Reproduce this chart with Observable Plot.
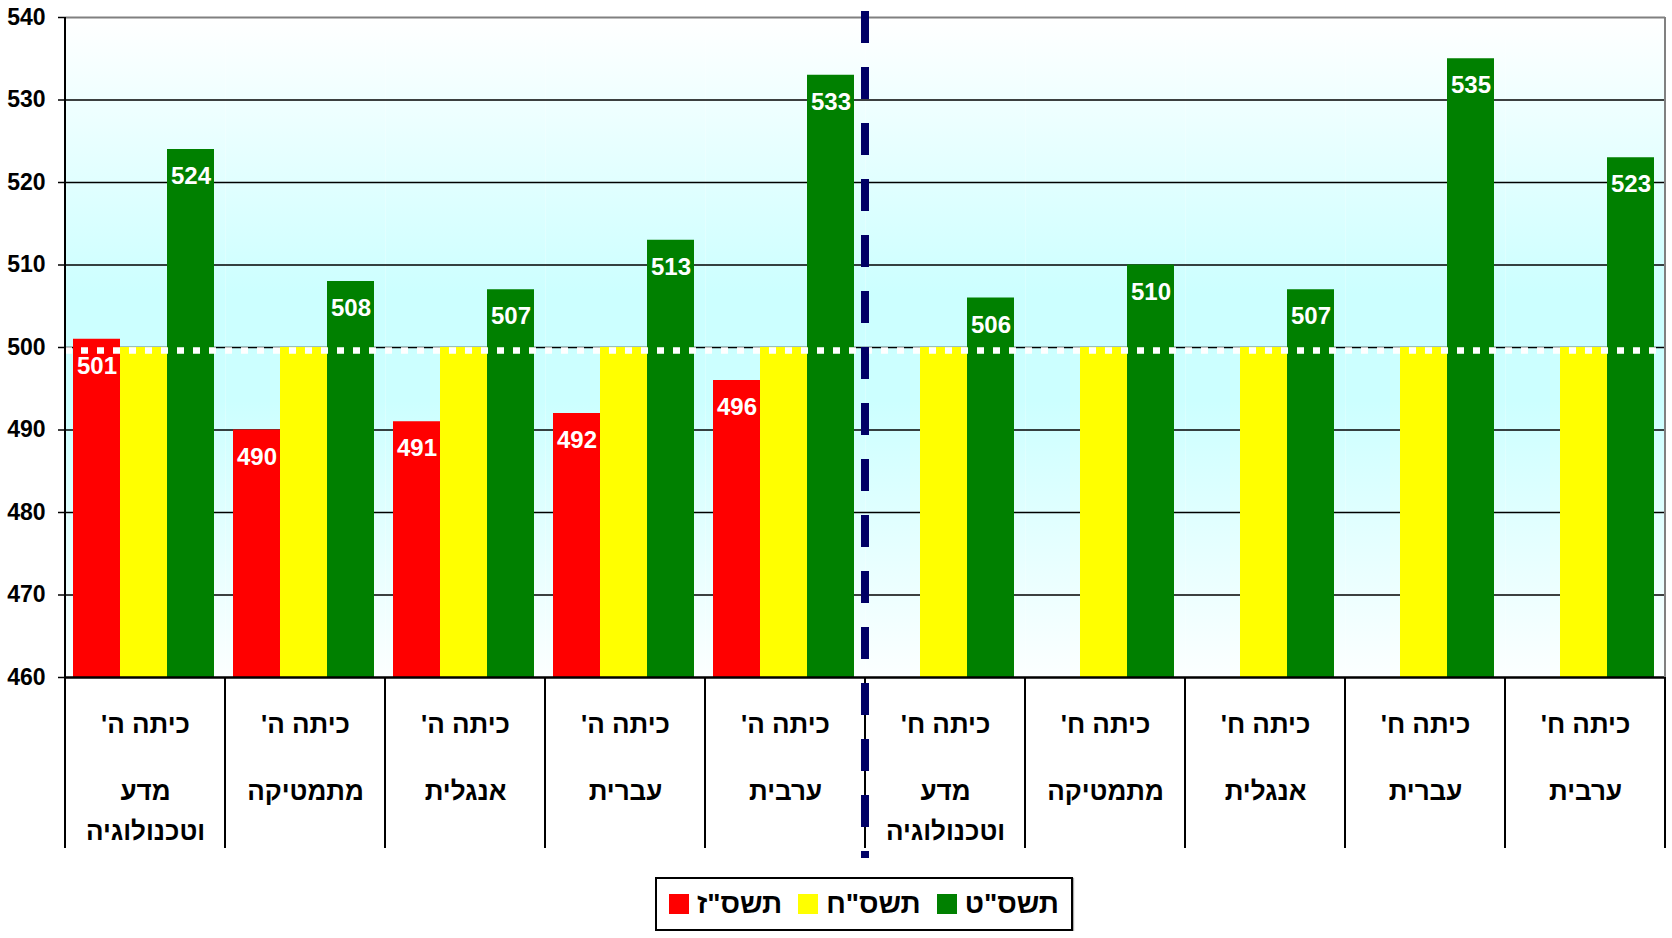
<!DOCTYPE html>
<html>
<head>
<meta charset="utf-8">
<script src="https://cdn.jsdelivr.net/npm/d3@7"></script>
<script src="https://cdn.jsdelivr.net/npm/@observablehq/plot@0.6"></script>
<style>
  body { margin: 0; background: #fff; font-family: "Liberation Sans", Arial, sans-serif; }
  #chart svg { display: block; }
  #legend {
    display: inline-flex; align-items: center; box-sizing: border-box;
    margin: 12px 0 0 655px; height: 54px; padding: 0 12px;
    border: 2px solid #000; font-weight: bold; font-size: 28px; color: #000;
    box-shadow: 1px 1px 1px #aaa;
  }
  #legend .sw { display: inline-block; width: 20px; height: 20px; margin-right: 8px; }
  #legend .lab { margin-right: 16px; }
  #legend .lab:last-child { margin-right: 0; }
</style>
</head>
<body>
<div id="chart"></div>
<div id="legend"></div>
<script>
// ---- data ----
const grades = ["כיתה ה'", "כיתה ה'", "כיתה ה'", "כיתה ה'", "כיתה ה'",
                "כיתה ח'", "כיתה ח'", "כיתה ח'", "כיתה ח'", "כיתה ח'"];
const subjects = ["מדע\nוטכנולוגיה", "מתמטיקה", "אנגלית", "עברית", "ערבית",
                  "מדע\nוטכנולוגיה", "מתמטיקה", "אנגלית", "עברית", "ערבית"];
const seriesNames = ['תשס"ז', 'תשס"ח', 'תשס"ט'];
const seriesColors = ["#ff0000", "#ffff00", "#008000"];
const values2007 = [501, 490, 491, 492, 496, null, null, null, null, null];
const values2008 = [500, 500, 500, 500, 500, 500, 500, 500, 500, 500];
const values2009 = [524, 508, 507, 513, 533, 506, 510, 507, 535, 523];
const yTicks = [460, 470, 480, 490, 500, 510, 520, 530, 540];
const yGrid = [470, 480, 490, 500, 510, 520, 530];
const yMin = 460, yMax = 540, reference = 500;

// ---- tables ----
const seriesValues = [values2007, values2008, values2009];
const cats = grades.map((g, i) => ({i, grade: g, subject: subjects[i]}));
const rows = [];
seriesValues.forEach((vals, s) => vals.forEach((v, i) => {
  if (v != null) rows.push({i, s: seriesNames[s], v, labeled: s !== 1});
}));
const labelRows = rows.filter(d => d.labeled);

const plot = Plot.plot({
  width: 1672, height: 865,
  marginTop: 17, marginLeft: 65, marginRight: 7, marginBottom: 188,
  style: {fontFamily: '"Liberation Sans", Arial, sans-serif', fontWeight: "bold", color: "#000", background: "transparent"},
  fx: {domain: d3.range(grades.length), padding: 0, axis: null},
  x: {domain: seriesNames, paddingInner: 0, paddingOuter: 0.17, align: 0.44, axis: null},
  y: {domain: [yMin, yMax], axis: null},
  color: {domain: seriesNames, range: seriesColors},
  marks: [
    Plot.frame({fill: "url(#bgGrad)", stroke: "none"}),
    Plot.gridY(yGrid, {stroke: "#000", strokeOpacity: 1, strokeWidth: 1.5}),
    Plot.ruleY([yMax], {stroke: "#808080", strokeWidth: 2}),
    Plot.barY(rows, {fx: "i", x: "s", y1: () => yMin, y2: "v", fill: "s"}),
    Plot.ruleY([reference], {stroke: "#fff", strokeWidth: 6.5, strokeDasharray: "7,9", dy: 3}),
    Plot.ruleY([yMin], {stroke: "#000", strokeWidth: 2.5}),
    Plot.text(labelRows, {fx: "i", x: "s", y: "v", text: d => String(d.v), fill: "#fff", fontSize: 24, dy: 27}),
    Plot.axisY({ticks: yTicks, tickSize: 7, tickPadding: 13, fontSize: 23, label: null, strokeWidth: 1.5}),
    Plot.text(cats, {fx: "i", text: d => d.grade + "\u200F", frameAnchor: "bottom", lineAnchor: "middle", dy: 47, fontSize: 26}),
    Plot.text(cats, {fx: "i", text: d => d.subject.split("\n").map(t => t + "\u200F").join("\n"), frameAnchor: "bottom", lineAnchor: "top", lineHeight: 1.55, dy: 94, fontSize: 26})
  ]
});

const svg = d3.select(plot);
svg.insert("defs", ":first-child").html(
  '<linearGradient id="bgGrad" x1="0" y1="0" x2="0" y2="1">' +
  '<stop offset="0" stop-color="#ffffff"/>' +
  '<stop offset="0.42" stop-color="#ccffff"/>' +
  '<stop offset="0.58" stop-color="#ccffff"/>' +
  '<stop offset="1" stop-color="#fcffff"/>' +
  '</linearGradient>');

const fx = plot.scale("fx"), ys = plot.scale("y");
const [r0, r1] = fx.range;
const step = (r1 - r0) / fx.domain.length;
const yTop = ys.apply(yMax), yBase = ys.apply(yMin);
const yLow = yBase + 171;
const deco = svg.append("g");
for (let k = 0; k <= fx.domain.length; k++) {
  const x = r0 + k * step;
  deco.append("line").attr("x1", x).attr("x2", x).attr("y1", yBase).attr("y2", yLow)
    .attr("stroke", "#000").attr("stroke-width", 2);
}
deco.append("line").attr("x1", r0).attr("x2", r0).attr("y1", yTop).attr("y2", yBase)
  .attr("stroke", "#000").attr("stroke-width", 2);
deco.append("line").attr("x1", r1).attr("x2", r1).attr("y1", yTop).attr("y2", yBase)
  .attr("stroke", "#808080").attr("stroke-width", 2);
const xd = r0 + 5 * step;
deco.append("line").attr("x1", xd).attr("x2", xd).attr("y1", yTop - 6).attr("y2", yLow + 10)
  .attr("stroke", "#000066").attr("stroke-width", 8).attr("stroke-dasharray", "32,24");

document.getElementById("chart").appendChild(plot);

const legend = d3.select("#legend");
seriesNames.forEach((name, s) => {
  legend.append("span").attr("class", "sw").style("background", seriesColors[s]);
  legend.append("span").attr("class", "lab").attr("dir", "rtl").text(name);
});
</script>
</body>
</html>
